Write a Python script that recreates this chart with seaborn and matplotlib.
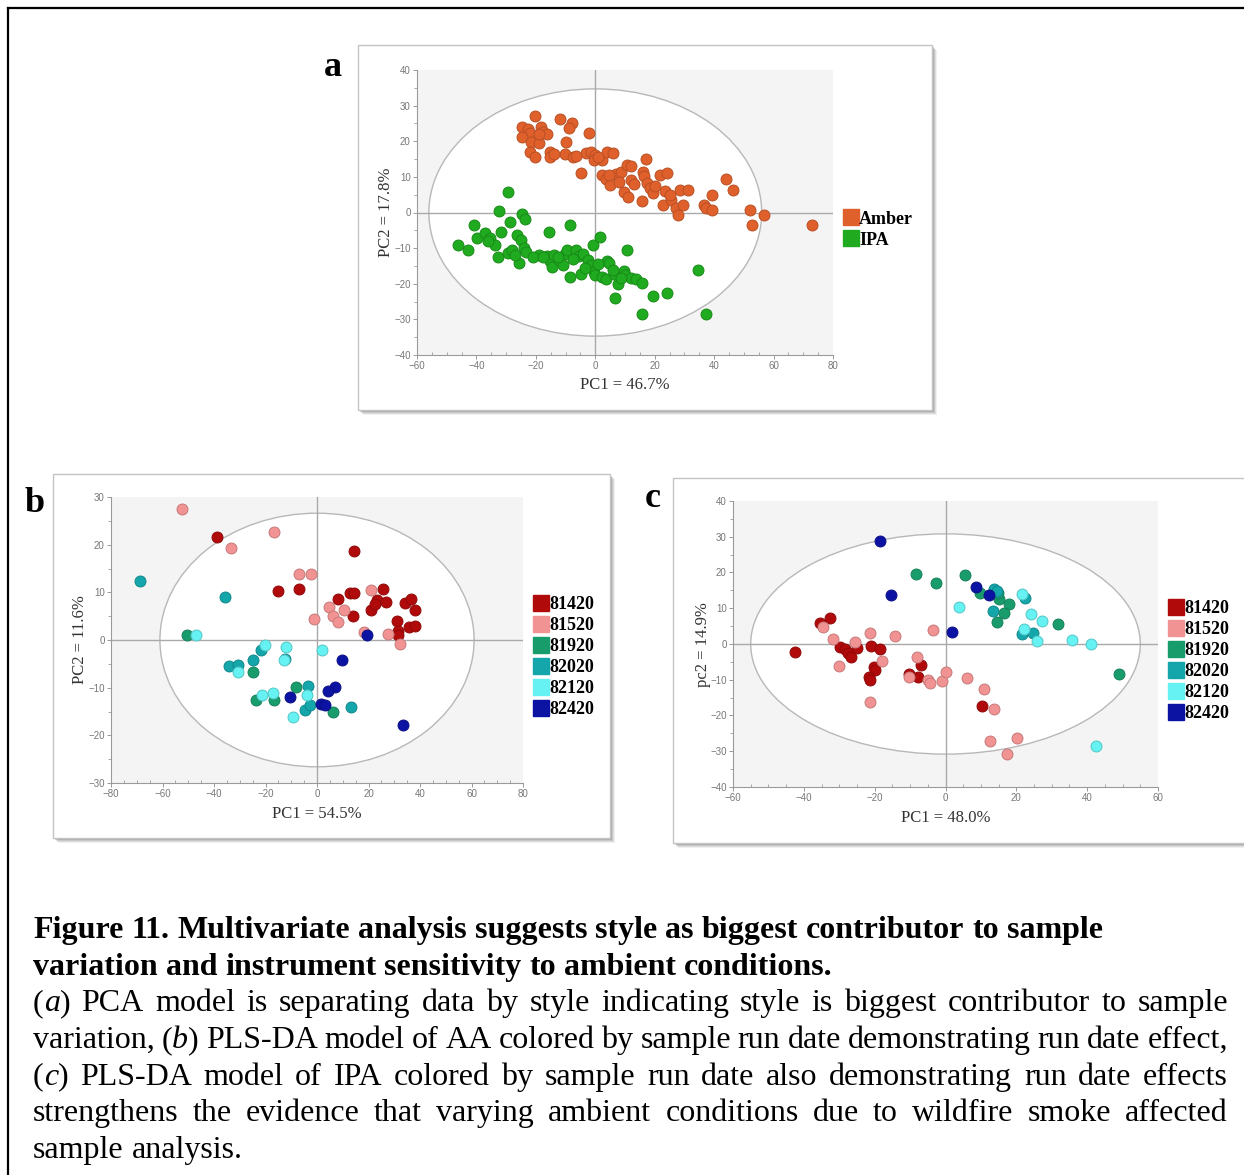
import matplotlib
matplotlib.use("Agg")
import matplotlib.pyplot as plt
from matplotlib.patches import Ellipse, Rectangle
from matplotlib.lines import Line2D
from matplotlib.ticker import MultipleLocator
import matplotlib.colors as mcolors
import seaborn as sns
import pandas as pd

# ---------------- scores, panel a (PCA by style) ----------------
amber_scores = [
    (-20.3, 27.0), (-11.9, 26.3), (-8.0, 25.1), (-8.7, 23.6), (-24.5, 24.1), (-22.8, 23.4),
    (-22.1, 22.3), (-18.3, 23.9), (-17.6, 22.5), (-16.4, 21.9), (-24.8, 21.1), (-21.5, 19.7),
    (-18.8, 19.5), (-2.0, 22.2), (-9.8, 19.7), (-22.1, 16.9), (-20.3, 15.7), (-15.1, 17.1),
    (-15.1, 15.7), (-10.2, 16.4), (-7.6, 15.7), (-3.1, 16.6), (-1.6, 17.1), (0.0, 16.1),
    (-0.4, 14.6), (2.3, 14.8), (3.9, 17.1), (5.8, 16.7), (-4.7, 11.0), (2.1, 10.5),
    (3.7, 9.4), (5.0, 7.7), (7.0, 10.8), (8.5, 11.5), (10.7, 13.2), (11.9, 9.0),
    (9.7, 5.7), (11.0, 4.3), (16.9, 15.0), (16.2, 11.5), (16.5, 10.2), (17.5, 8.2),
    (18.5, 6.8), (19.3, 5.5), (15.6, 3.2), (21.8, 10.5), (24.2, 11.1), (23.6, 6.0),
    (22.8, 2.1), (25.5, 3.4), (27.3, 1.3), (27.8, -0.7), (29.4, 2.1), (28.5, 6.3),
    (31.2, 6.4), (36.5, 2.1), (37.2, 1.4), (39.2, 0.8), (39.3, 4.9), (43.9, 9.4),
    (46.4, 6.3), (51.9, 0.6), (52.8, -3.6), (56.8, -0.6), (72.8, -3.4), (-19.0, 22.0),
    (-6.5, 16.0), (1.0, 15.5), (4.5, 10.5), (8.0, 8.5), (13.0, 8.0), (20.0, 7.5),
    (25.0, 5.0), (-14.0, 16.5), (12.0, 13.0),
]
ipa_scores = [
    (-29.3, 5.7), (-32.3, 0.4), (-24.5, -0.4), (-23.5, -1.8), (-40.7, -3.6), (-28.7, -2.7),
    (-8.6, -3.4), (-46.1, -9.0), (-42.8, -10.4), (-39.7, -7.2), (-37.0, -5.8), (-35.4, -7.2),
    (-33.6, -9.0), (-31.7, -5.5), (-32.6, -12.6), (-29.3, -11.3), (-28.0, -10.4), (-26.2, -6.4),
    (-25.0, -7.6), (-24.1, -9.9), (-23.4, -11.1), (-25.6, -14.2), (-15.7, -5.5), (-18.8, -12.0),
    (-16.4, -12.2), (-15.1, -13.7), (-14.5, -15.3), (-13.9, -11.8), (-12.1, -13.4), (-10.8, -14.8),
    (-10.2, -11.6), (-9.6, -10.6), (-8.4, -18.1), (-6.5, -10.6), (-5.5, -12.2), (-4.7, -17.4),
    (-4.1, -11.6), (-2.6, -13.2), (-1.6, -14.8), (-0.4, -16.7), (0.0, -17.6), (-0.7, -9.0),
    (1.7, -6.9), (2.1, -18.1), (3.9, -13.6), (4.6, -14.1), (3.6, -18.8), (6.4, -17.2),
    (6.8, -24.0), (7.6, -20.0), (9.7, -16.4), (10.7, -10.6), (10.1, -17.6), (11.9, -18.4),
    (13.8, -18.6), (15.6, -19.8), (15.6, -28.6), (19.3, -23.4), (24.2, -22.6), (34.7, -16.0),
    (37.1, -28.6), (-21.0, -12.5), (-17.5, -12.5), (-12.5, -12.5), (-7.5, -13.0), (-3.5, -15.5),
    (1.0, -14.5), (6.0, -16.0), (8.5, -18.5), (-27.0, -12.0), (-36.0, -8.0),
]

# ---------------- scores, panel b (PLS-DA of AA by run date) ----------------
b_81420 = [(-39.0, 21.7), (-15.0, 10.2), (-6.9, 10.8), (14.4, 18.7), (8.3, 8.7), (12.8, 9.9),
           (14.4, 9.9), (13.9, 5.0), (21.1, 6.2), (23.2, 8.3), (25.7, 10.8), (26.9, 8.0),
           (31.1, 3.9), (31.5, 1.8), (31.5, 1.1), (34.3, 7.8), (36.6, 8.5), (38.0, 6.2),
           (35.6, 2.7), (38.0, 2.9), (22.5, 7.6)]
b_81520 = [(-52.4, 27.4), (-16.8, 22.7), (-33.3, 19.4), (-6.9, 13.9), (-2.2, 13.8), (-1.1, 4.5),
           (4.7, 6.9), (6.2, 5.0), (8.3, 3.8), (10.3, 6.2), (20.8, 10.4), (18.3, 1.7),
           (27.7, 1.3), (32.2, -0.8)]
b_81920 = [(-50.3, 1.0), (-25.0, -6.8), (-23.6, -12.5), (-16.6, -12.5), (-8.3, -9.9), (6.2, -15.1)]
b_82020 = [(-68.8, 12.3), (-35.8, 9.0), (-34.0, -5.4), (-30.7, -5.3), (-24.7, -4.3), (-21.9, -2.0),
           (-12.5, -4.0), (-3.6, -9.6), (-4.6, -14.6), (-2.8, -13.6), (13.2, -14.1)]
b_82120 = [(-46.9, 1.0), (-30.7, -6.7), (-20.1, -1.1), (-12.2, -1.5), (-12.9, -4.3), (1.9, -2.0),
           (-21.2, -11.5), (-17.1, -11.1), (-3.9, -11.5), (-9.2, -16.2)]
b_82420 = [(19.3, 1.0), (9.7, -4.3), (6.8, -9.9), (4.4, -10.8), (-10.5, -12.0), (1.7, -13.4),
           (3.3, -13.6), (33.3, -17.9)]

# ---------------- scores, panel c (PLS-DA of IPA by run date) ----------------
c_81420 = [(-42.4, -2.2), (-35.4, 6.0), (-32.5, 7.2), (-29.7, -0.8), (-28.4, -1.5), (-27.4, -2.4),
           (-26.6, -3.5), (-25.1, -1.0), (-21.1, -0.6), (-18.6, -1.5), (-20.3, -6.4), (-19.9, -7.4),
           (-21.5, -9.1), (-21.2, -10.1), (-7.0, -5.9), (-7.7, -9.1), (-10.2, -8.5), (10.4, -17.3)]
c_81520 = [(-34.5, 4.8), (-31.7, 1.5), (-25.5, 0.6), (-30.0, -6.2), (-21.4, 3.2), (-14.2, 2.1),
           (-17.8, -4.8), (-21.4, -16.1), (-8.0, -3.5), (-10.4, -9.1), (-3.4, 3.9), (-4.9, -10.1),
           (-4.4, -11.0), (-1.1, -10.3), (0.0, -7.7), (6.0, -9.6), (10.9, -12.7), (13.7, -18.1),
           (12.7, -27.1), (20.2, -26.2), (17.3, -30.9)]
c_81920 = [(-8.3, 19.5), (-2.8, 17.0), (5.6, 19.3), (9.6, 14.4), (15.0, 12.5), (18.0, 11.1),
           (16.5, 8.8), (14.5, 6.2), (31.8, 5.5), (49.0, -8.5), (14.8, 14.4)]
c_82020 = [(13.6, 15.5), (14.4, 14.8), (22.5, 13.0), (13.4, 9.2), (21.7, 2.9), (24.6, 3.2)]
c_82120 = [(3.9, 10.4), (21.7, 13.9), (24.0, 8.5), (27.3, 6.4), (22.3, 4.1), (25.9, 0.8),
           (35.7, 1.1), (41.1, -0.1), (42.4, -28.5)]
c_82420 = [(-18.6, 28.8), (-15.5, 13.6), (8.5, 16.0), (12.4, 13.6), (1.8, 3.4)]

style_names = ["Amber", "IPA"]
run_dates = ["81420", "81520", "81920", "82020", "82120", "82420"]

style_colors = ["#e0602c", "#1faa1f"]
date_colors = ["#b00a0a", "#f29393", "#199c6c", "#14a6aa", "#66f2f2", "#0c12a2"]

W, H = 1244, 1175
fig = plt.figure(figsize=(W / 100, H / 100), dpi=100)
fig.patch.set_facecolor("white")

SERIF = "Liberation Serif"


def px_rect(x0, y0, x1, y1):
    """Figure-fraction rectangle from pixel corners (origin at top-left)."""
    return (x0 / W, 1 - y1 / H, (x1 - x0) / W, (y1 - y0) / H)


def panel_frame(x0, y0, x1, y1):
    # soft drop shadow
    for i, a in enumerate([0.10, 0.14, 0.20, 0.28]):
        off = 5 - i
        l, b, w, h = px_rect(x0 + off, y0 + off, x1 + off, y1 + off)
        fig.patches.append(Rectangle((l, b), w, h, transform=fig.transFigure,
                                     facecolor="#707070", edgecolor="none", alpha=a, zorder=-3))
    l, b, w, h = px_rect(x0, y0, x1, y1)
    fig.patches.append(Rectangle((l, b), w, h, transform=fig.transFigure,
                                 facecolor="white", edgecolor="#c4c4c4", lw=1.0, zorder=-2))


def darker(c, f=0.82):
    r, g, b = mcolors.to_rgb(c)
    return (r * f, g * f, b * f)


def score_panel(rect, groups, names, colors, xlim, ylim, xstep, ystep, ell,
                xlabel, ylabel, xlab_pos, ylab_pos):
    ax = fig.add_axes(px_rect(*rect))
    ax.set_zorder(1)
    ax.set_facecolor("#f4f4f4")
    ax.add_patch(Ellipse((0, 0), 2 * ell[0], 2 * ell[1], facecolor="white",
                         edgecolor="#b8b8b8", lw=1.0, zorder=0.5))
    ax.axhline(0, color="#a9a9a9", lw=1.0, zorder=1)
    ax.axvline(0, color="#a9a9a9", lw=1.0, zorder=1)
    for pts, name, col in zip(groups, names, colors):
        df = pd.DataFrame(pts, columns=["pc1", "pc2"])
        sns.scatterplot(data=df, x="pc1", y="pc2", color=col, edgecolor=darker(col),
                        linewidth=0.7, s=62, ax=ax, zorder=3, legend=False)
    ax.set_xlim(*xlim)
    ax.set_ylim(*ylim)
    ax.xaxis.set_major_locator(MultipleLocator(xstep))
    ax.yaxis.set_major_locator(MultipleLocator(ystep))
    ax.xaxis.set_minor_locator(MultipleLocator(5))
    ax.yaxis.set_minor_locator(MultipleLocator(5))
    for s in ["top", "right"]:
        ax.spines[s].set_visible(False)
    for s in ["left", "bottom"]:
        ax.spines[s].set_color("#9a9a9a")
        ax.spines[s].set_linewidth(0.8)
    ax.tick_params(which="major", length=3, width=0.7, color="#9a9a9a",
                   labelsize=7, labelcolor="#777777", pad=1.5)
    ax.tick_params(axis="x", which="minor", direction="in", length=2, width=0.6, color="#9a9a9a")
    ax.tick_params(axis="y", which="minor", direction="out", length=2, width=0.6, color="#9a9a9a")
    for lab in ax.get_xticklabels() + ax.get_yticklabels():
        lab.set_family("Liberation Sans")
    ax.set_xlabel(xlabel, family=SERIF, fontsize=12, color="#333333")
    ax.set_ylabel(ylabel, family=SERIF, fontsize=12, color="#333333")
    ax.xaxis.set_label_coords(*xlab_pos)
    ax.yaxis.set_label_coords(*ylab_pos)
    ax.xaxis.label.set_va("center")
    ax.yaxis.label.set_va("center")
    handles = [Line2D([], [], marker="s", ls="none", markersize=11.5,
                      markerfacecolor=c, markeredgecolor=c) for c in colors]
    ax.legend(handles, names, loc="center left", bbox_to_anchor=(1.0, 0.44),
              frameon=False, handlelength=0.8, handletextpad=0.05, labelspacing=0.22,
              borderaxespad=0.2, prop={"family": SERIF, "weight": "bold", "size": 13})
    return ax


# panel frames
panel_frame(358, 45, 932, 410)
panel_frame(53, 474, 610, 838)
panel_frame(673, 478, 1250, 843)

score_panel((417, 70, 833, 355), [amber_scores, ipa_scores], style_names, style_colors,
            (-60, 80), (-40, 40), 20, 10, (56, 34.7),
            "PC1 = 46.7%", "PC2 = 17.8%", (0.5, -0.105), (-0.075, 0.5))
score_panel((111, 497, 523, 783),
            [b_81420, b_81520, b_81920, b_82020, b_82120, b_82420], run_dates, date_colors,
            (-80, 80), (-30, 30), 20, 10, (61, 26.6),
            "PC1 = 54.5%", "PC2 = 11.6%", (0.5, -0.108), (-0.075, 0.5))
score_panel((733, 501, 1158, 787),
            [c_81420, c_81520, c_81920, c_82020, c_82120, c_82420], run_dates, date_colors,
            (-60, 60), (-40, 40), 20, 10, (55, 30.8),
            "PC1 = 48.0%", "pc2 = 14.9%", (0.5, -0.108), (-0.071, 0.497))

# panel letters
for letter, (px, py) in zip("abc", [(333, 68), (35, 503), (653, 498)]):
    fig.text(px / W, 1 - py / H, letter, family=SERIF, weight="bold", fontsize=26,
             ha="center", va="center")

# outer border (top and left edges)
fig.add_artist(Line2D([8 / W, 8 / W], [0, 1 - 8 / H], transform=fig.transFigure,
                      color="black", lw=1.6))
fig.add_artist(Line2D([8 / W, 1], [1 - 8 / H, 1 - 8 / H], transform=fig.transFigure,
                      color="black", lw=1.6))

# ---------------- caption ----------------
CAP_SIZE = 23
renderer = fig.canvas.get_renderer()


def text_width(txt, **kw):
    t = fig.text(0, 0, txt, family=SERIF, fontsize=CAP_SIZE, **kw)
    w = t.get_window_extent(renderer).width
    t.remove()
    return w


def draw_line(words, baseline_px, x0=33, x1=1228, justify=True, **kw):
    widths = []
    for w in words:
        widths.append(sum(text_width(seg, style=st, **kw) for seg, st in w))
    space = text_width("a b", **kw) - text_width("ab", **kw)
    if justify and len(words) > 1:
        space = (x1 - x0 - sum(widths)) / (len(words) - 1)
    x = x0
    for w, wd in zip(words, widths):
        xx = x
        for seg, st in w:
            fig.text(xx / W, 1 - baseline_px / H, seg, family=SERIF, fontsize=CAP_SIZE,
                     style=st, va="baseline", ha="left", **kw)
            xx += text_width(seg, style=st, **kw)
        x += wd + space


def plain_words(s):
    return [[(w, "normal")] for w in s.split()]


def it(letter):
    return [("(", "normal"), (letter, "italic"), (")", "normal")]


bold_lines = [
    "Figure 11. Multivariate analysis suggests style as biggest contributor to sample",
    "variation and instrument sensitivity to ambient conditions.",
]
draw_line(plain_words(bold_lines[0]), 938, justify=False, weight="bold")
draw_line(plain_words(bold_lines[1]), 975, justify=False, weight="bold")

body = [
    [it("a")] + plain_words("PCA model is separating data by style indicating style is biggest contributor to sample"),
    plain_words("variation,") + [it("b")] + plain_words("PLS-DA model of AA colored by sample run date demonstrating run date effect,"),
    [it("c")] + plain_words("PLS-DA model of IPA colored by sample run date also demonstrating run date effects"),
    plain_words("strengthens the evidence that varying ambient conditions due to wildfire smoke affected"),
]
for i, words in enumerate(body):
    draw_line(words, 1011 + i * 36.8)
draw_line(plain_words("sample analysis."), 1011 + 4 * 36.8, justify=False)

fig.savefig("out.png", dpi=100)
